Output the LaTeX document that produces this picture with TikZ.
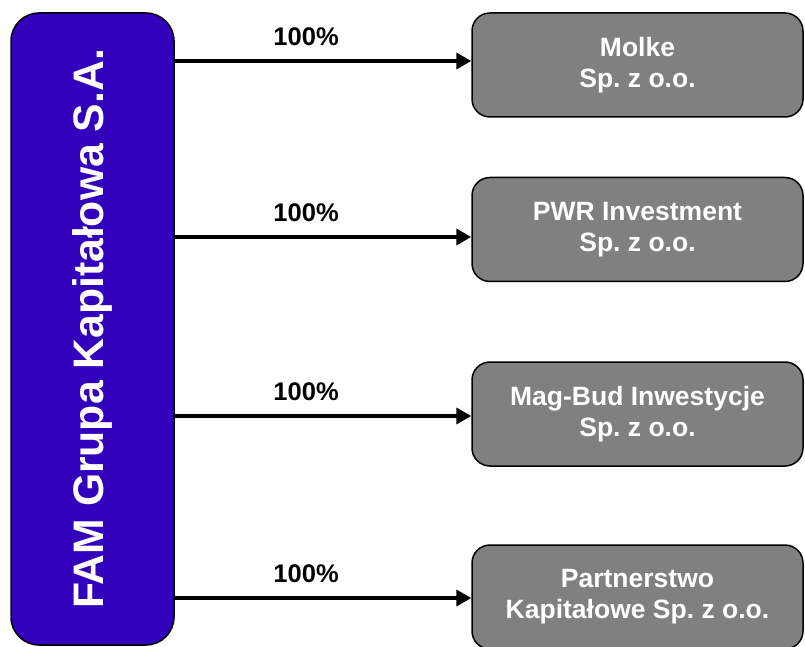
\documentclass[tikz,border=0pt]{standalone}
\usepackage{fontspec}
\setmainfont{Liberation Sans}
\usetikzlibrary{arrows.meta,positioning}
\definecolor{famblue}{HTML}{3300BB}
\definecolor{boxgrey}{HTML}{808080}
\frenchspacing
\begin{document}
\begin{tikzpicture}[x=1pt, y=1pt,
    parentbox/.style={draw=black, line width=1.5pt, fill=famblue, rounded corners=28pt,
        text=white, font=\fontsize{42.7}{50}\selectfont\bfseries, rotate=90,
        minimum width=632pt, minimum height=163pt, inner sep=0pt},
    childbox/.style={draw=black, line width=1.5pt, fill=boxgrey, rounded corners=18pt,
        text=white, font=\fontsize{26.5}{31}\selectfont\bfseries, align=center,
        minimum width=331pt, minimum height=104pt, inner sep=0pt},
    share/.style={-{Triangle[length=15pt,width=16pt]}, line width=4pt},
    pct/.style={font=\fontsize{25.5}{30}\selectfont\bfseries, inner sep=0pt, anchor=south}]
    \clip (0,0) rectangle (805,646);

    \node[parentbox] (fam) at (92.5,317) {FAM Grupa Kapitałowa S.A.};

    \node[childbox] (molke) at (637.5,581) {Molke\\Sp. z o.o.};
    \node[childbox] (pwr)   at (637.5,416.5) {PWR Investment\\Sp. z o.o.};
    \node[childbox] (mag)   at (637.5,232) {Mag-Bud Inwestycje\\Sp. z o.o.};
    \node[childbox] (part)  at (637.5,49) {Partnerstwo\\Kapitałowe Sp. z o.o.};

    \coordinate (s1) at (fam.south |- 0,585);
    \coordinate (s2) at (fam.south |- 0,409);
    \coordinate (s3) at (fam.south |- 0,230);
    \coordinate (s4) at (fam.south |- 0,48);

    \draw[share] (s1) -- (s1 -| molke.west) node[pct, pos=0.443, yshift=13pt] (p1) {100\%};
    \draw[share] (s2) -- (s2 -| pwr.west) node[pct, pos=0.443, yshift=13pt] (p2) {100\%};
    \draw[share] (s3) -- (s3 -| mag.west) node[pct, pos=0.443, yshift=13pt] (p3) {100\%};
    \draw[share] (s4) -- (s4 -| part.west) node[pct, pos=0.443, yshift=13pt] (p4) {100\%};
\end{tikzpicture}
\end{document}
